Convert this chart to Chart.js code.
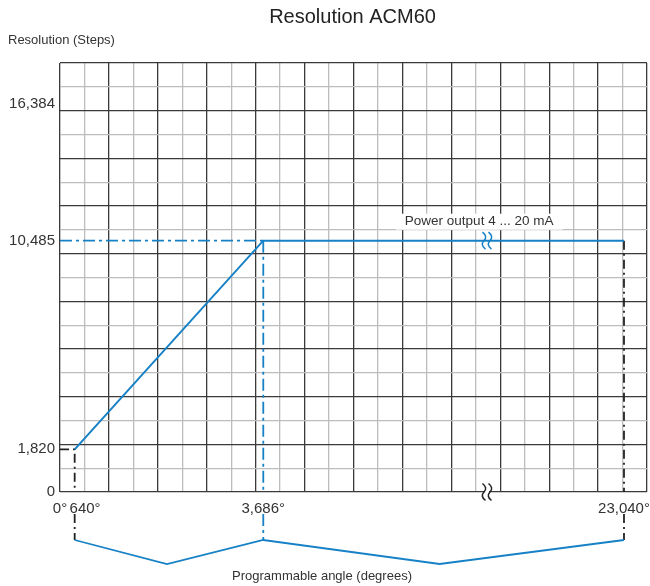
<!DOCTYPE html>
<html>
<head>
<meta charset="utf-8">
<script src="https://cdn.jsdelivr.net/npm/chart.js@4.4.1/dist/chart.umd.min.js"></script>
<style>
  html, body { margin: 0; padding: 0; background: #fff; }
  #wrap { width: 650px; height: 586px; position: relative; }
</style>
</head>
<body>
<div id="wrap"><canvas id="acm60"></canvas></div>
<script>
// values
const angleTicks = [0, 640, 3686, 23040];      // degrees on the x axis
const stepTicks = [0, 1820, 10485, 16384];     // steps on the y axis
const curveAngles = [640, 3686, 23040];
const curveSteps = [1820, 10485, 10485];

const titleText = 'Resolution ACM60';
const yTitle = 'Resolution (Steps)';
const xTitle = 'Programmable angle (degrees)';
const noteText = 'Power output 4 ... 20 mA';

const BLUE = '#1681c6';
const INK = '#333333';
const FONT = '"Liberation Sans", Arial, sans-serif';

// the drawing is not to scale: the axis is piecewise linear (with a break)
class PiecewiseScale extends Chart.LinearScale {
  toFraction(v) {
    const a = this.options.anchors;
    for (let i = 1; i < a.length; i++) {
      if (v <= a[i][0] || i === a.length - 1) {
        const [v0, f0] = a[i - 1], [v1, f1] = a[i];
        return f0 + (v - v0) / (v1 - v0) * (f1 - f0);
      }
    }
    return 0;
  }
  getPixelForValue(value) {
    return this.getPixelForDecimal(this.toFraction(value));
  }
  getValueForPixel(pixel) {
    let f = (pixel - this._startPixel) / this._length;
    if (this._reversePixels) f = 1 - f;
    const a = this.options.anchors;
    for (let i = 1; i < a.length; i++) {
      if (f <= a[i][1] || i === a.length - 1) {
        const [v0, f0] = a[i - 1], [v1, f1] = a[i];
        return v0 + (f - f0) / (f1 - f0) * (v1 - v0);
      }
    }
    return 0;
  }
}
PiecewiseScale.id = 'piecewise';
Chart.register(PiecewiseScale);

const gridCols = 24, gridRows = 18;
const range = n => Array.from({ length: n + 1 }, (_, i) => ({ value: i }));
const gridColor = c => (c.tick && c.tick.value % 2 === 0) ? '#3a3a3a' : '#bdbdbd';

function formatAngle(v) {
  const s = v.toLocaleString('en-US') + '°';
  return v === 640 ? '     ' + s : s;   // pushed right so it clears "0°"
}

// no extra room for overflowing tick labels
function noPadding(s) {
  s.paddingLeft = 0; s.paddingRight = 0; s.paddingTop = 0; s.paddingBottom = 0;
}

// dash-dot guide lines
const guides = [
  { data: [{ x: 0, y: curveSteps[0] }, { x: curveAngles[0], y: curveSteps[0] }, { x: curveAngles[0], y: 0 }], color: '#222', dash: [9, 4, 2, 4] },
  { data: [{ x: 0, y: curveSteps[1] }, { x: curveAngles[1], y: curveSteps[1] }], color: BLUE, dash: [12, 4, 3, 4] },
  { data: [{ x: curveAngles[1], y: curveSteps[1] }, { x: curveAngles[1], y: 0 }], color: BLUE, dash: [12, 4, 3, 4] },
  { data: [{ x: curveAngles[2], y: curveSteps[2] }, { x: curveAngles[2], y: 0 }], color: '#222', dash: [9, 4, 2, 4] }
];

const datasets = [{
  label: 'Resolution',
  data: curveAngles.map((a, i) => ({ x: a, y: curveSteps[i] })),
  borderColor: BLUE,
  borderWidth: 2,
  pointRadius: 0,
  tension: 0
}].concat(guides.map(g => ({
  data: g.data,
  borderColor: g.color,
  borderWidth: 1.8,
  borderDash: g.dash,
  pointRadius: 0,
  tension: 0
})));

function squiggle(ctx, x, y, h) {
  ctx.beginPath();
  ctx.moveTo(x - 1.5, y - h / 2);
  ctx.quadraticCurveTo(x + 4, y - h / 4, x, y);
  ctx.quadraticCurveTo(x - 4, y + h / 4, x + 1.5, y + h / 2);
  ctx.stroke();
}

const decor = {
  id: 'decor',
  afterDatasetsDraw(chart) {
    const { ctx, chartArea: area, scales: { x, y } } = chart;
    const x0 = x.getPixelForValue(curveAngles[0]);
    const x1 = x.getPixelForValue(curveAngles[1]);
    const x2 = x.getPixelForValue(curveAngles[2]);
    const top = area.bottom + 48, dip = area.bottom + 72;
    ctx.save();

    // guide lines continue below the tick labels
    ctx.lineWidth = 1.8;
    [[x0, '#222', [9, 4, 2, 4]], [x1, BLUE, [12, 4, 3, 4]], [x2, '#222', [9, 4, 2, 4]]].forEach(([px, col, dash]) => {
      ctx.strokeStyle = col;
      ctx.setLineDash(dash);
      ctx.beginPath();
      ctx.moveTo(px, area.bottom + 22);
      ctx.lineTo(px, top);
      ctx.stroke();
    });

    // brace under the programmable range
    ctx.setLineDash([]);
    ctx.strokeStyle = BLUE;
    ctx.lineWidth = 1.8;
    ctx.beginPath();
    ctx.moveTo(x0, top);
    ctx.lineTo((x0 + x1) / 2 - 2, dip);
    ctx.lineTo(x1, top);
    ctx.lineTo((x1 + x2) / 2 - 4, dip);
    ctx.lineTo(x2, top);
    ctx.stroke();

    // axis break marks
    const bx = area.left + 0.7274 * (area.right - area.left);
    const by = y.getPixelForValue(curveSteps[1]);
    ctx.lineWidth = 1.5;
    ctx.strokeStyle = BLUE;
    squiggle(ctx, bx - 3, by, 17);
    squiggle(ctx, bx + 3, by, 17);
    ctx.fillStyle = '#fff';
    ctx.fillRect(bx - 2, area.bottom - 2, 4, 4);
    ctx.strokeStyle = '#222';
    squiggle(ctx, bx - 3, area.bottom, 17);
    squiggle(ctx, bx + 3, area.bottom, 17);

    // note above the 4 ... 20 mA line
    ctx.font = '13.5px ' + FONT;
    const nx = area.left + 0.714 * (area.right - area.left);
    const ny = by - 19;
    const w = ctx.measureText(noteText).width;
    ctx.fillStyle = '#fff';
    ctx.fillRect(nx - w / 2 - 9, ny - 8, w + 18, 16);
    ctx.fillStyle = INK;
    ctx.textAlign = 'center';
    ctx.textBaseline = 'middle';
    ctx.fillText(noteText, nx, ny);
    ctx.restore();
  },
  afterDraw(chart) {
    const { ctx, chartArea: area } = chart;
    ctx.save();
    ctx.fillStyle = '#222';
    ctx.textBaseline = 'middle';
    ctx.textAlign = 'center';
    ctx.font = '20px ' + FONT;
    ctx.fillText(titleText, (area.left + area.right) / 2 - 1, 17);
    ctx.fillStyle = INK;
    ctx.font = '13px ' + FONT;
    ctx.textAlign = 'left';
    ctx.fillText(yTitle, 8, 40);
    ctx.textAlign = 'center';
    ctx.fillText(xTitle, 322, 576);
    ctx.restore();
  }
};

new Chart(document.getElementById('acm60'), {
  type: 'line',
  data: { datasets },
  plugins: [decor],
  options: {
    responsive: true,
    maintainAspectRatio: false,
    animation: false,
    layout: { padding: { top: 63, left: 0, right: 3, bottom: 64 } },
    plugins: { legend: { display: false }, tooltip: { enabled: false }, title: { display: false } },
    scales: {
      x: {
        type: 'piecewise',
        min: 0, max: 24000,
        anchors: [[0, 0], [640, 0.025], [3686, 0.3463], [23040, 0.9608], [24000, 1]],
        afterBuildTicks: s => { s.ticks = angleTicks.map(v => ({ value: v })); },
        afterFit: s => { s.height = 30; noPadding(s); },
        grid: { display: false, drawTicks: false },
        border: { display: false },
        ticks: { autoSkip: false, maxRotation: 0, minRotation: 0, padding: 8, color: INK, font: { family: FONT, size: 15 }, callback: formatAngle }
      },
      y: {
        type: 'piecewise',
        min: 0, max: 18000,
        anchors: [[0, 0], [1820, 0.0995], [10485, 0.5858], [16384, 0.9044], [18000, 1]],
        afterBuildTicks: s => { s.ticks = stepTicks.map(v => ({ value: v })); },
        afterFit: s => { s.width = 60; noPadding(s); },
        grid: { display: false, drawTicks: false },
        border: { display: false },
        ticks: { autoSkip: false, padding: 5, color: INK, font: { family: FONT, size: 15 }, callback: v => v.toLocaleString('en-US') }
      },
      gx: {
        type: 'linear', position: 'top', axis: 'x',
        min: 0, max: gridCols,
        afterBuildTicks: s => { s.ticks = range(gridCols); },
        afterFit: s => { s.height = 0; noPadding(s); },
        ticks: { display: false },
        border: { display: false },
        grid: { drawTicks: false, color: gridColor, lineWidth: 1.3 }
      },
      gy: {
        type: 'linear', position: 'right', axis: 'y',
        min: 0, max: gridRows,
        afterBuildTicks: s => { s.ticks = range(gridRows); },
        afterFit: s => { s.width = 0; noPadding(s); },
        ticks: { display: false },
        border: { display: false },
        grid: { drawTicks: false, color: gridColor, lineWidth: 1.3 }
      }
    }
  }
});
</script>
</body>
</html>
